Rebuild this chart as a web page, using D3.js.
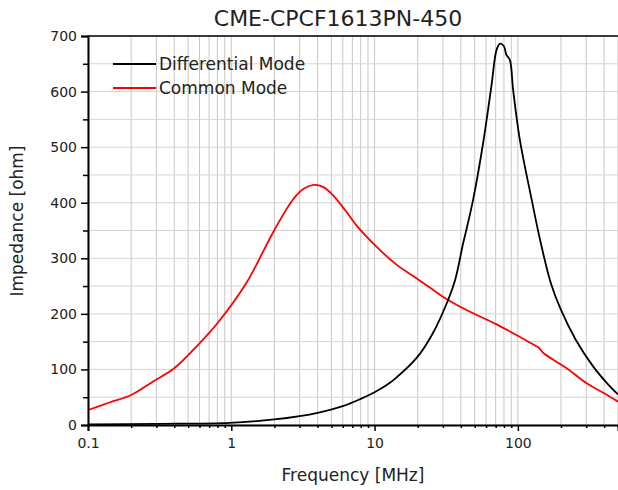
<!DOCTYPE html>
<html>
<head>
<meta charset="utf-8">
<script src="https://cdn.jsdelivr.net/npm/d3@7"></script>
<style>
  body { margin: 0; background: #fff; }
  text { font-family: "DejaVu Sans", sans-serif; fill: #222; }
</style>
</head>
<body>
<script>
// frequency in MHz, impedance in ohm
const cmFreq = [0.1, 0.141, 0.2, 0.283, 0.4, 0.6, 0.8, 1.27, 2.0, 2.68, 3.2, 3.77, 4.4, 5.1, 6.3, 7.6, 10.3, 14, 19.6, 25, 32.6, 48.7, 70, 92.7, 120, 134, 139, 150, 219, 302, 400, 500];
const cmImp  = [27, 40.5, 54, 78, 102, 147, 183, 255, 351, 405, 425, 432, 428, 414, 385, 357, 321, 290, 264, 245, 225, 201, 182, 165, 149, 142, 140, 130, 102, 75, 57, 42];

const dmFreq = [0.1, 0.3, 0.97, 2, 3, 4, 6, 8, 10, 12, 14, 20, 25.5, 32.6, 36.5, 41.5, 43.7, 48.7, 57.2, 65.3, 71, 74.8, 79.8, 83.2, 87.9, 92.7, 103, 125, 143, 170, 200, 254, 336, 420, 500];
const dmImp  = [1, 2, 4, 10, 16, 22, 34, 47, 59, 71, 84, 123, 165, 225, 261, 327, 351, 405, 507, 609, 675, 686, 682, 666, 657, 603, 515, 405, 333, 255, 207, 153, 105, 75, 55];

const xTicks = [0.1, 1, 10, 100];
const yTicks = [0, 100, 200, 300, 400, 500, 600, 700];

const w = 618, h = 490;
const mLeft = 88, mRight = 618, mTop = 36, mBottom = 425;

const x = d3.scaleLog().domain([0.1, 500]).range([mLeft, mRight]);
const y = d3.scaleLinear().domain([0, 700]).range([mBottom, mTop]);

const svg = d3.select("body").append("svg").attr("width", w).attr("height", h);

// minor positions for the grid
let xMinor = [];
[0.1, 1, 10, 100].forEach(d => { for (let k = 1; k < 10; k++) { if (d * k <= 500) xMinor.push(+(d * k).toPrecision(3)); } });
const yMinor = d3.range(0, 701, 50);

svg.append("g").selectAll("line").data(xMinor).enter().append("line")
  .attr("x1", d => x(d)).attr("x2", d => x(d))
  .attr("y1", mTop).attr("y2", mBottom)
  .attr("stroke", "#c8c8c8").attr("stroke-width", 1);
svg.append("g").selectAll("line").data(yMinor).enter().append("line")
  .attr("x1", mLeft).attr("x2", mRight)
  .attr("y1", d => y(d)).attr("y2", d => y(d))
  .attr("stroke", "#d4d4d4").attr("stroke-width", 1);

// top frame
svg.append("line").attr("x1", mLeft).attr("x2", mRight).attr("y1", mTop).attr("y2", mTop)
  .attr("stroke", "#000").attr("stroke-width", 1.5);

const line = d3.line().x(d => x(d[0])).y(d => y(d[1])).curve(d3.curveCatmullRom.alpha(0.5));

svg.append("path").datum(cmFreq.map((f, i) => [f, cmImp[i]]))
  .attr("d", line).attr("fill", "none").attr("stroke", "#ff0000").attr("stroke-width", 1.8);
svg.append("path").datum(dmFreq.map((f, i) => [f, dmImp[i]]))
  .attr("d", line).attr("fill", "none").attr("stroke", "#000").attr("stroke-width", 1.8);

// x axis
svg.append("g").attr("transform", "translate(0," + mBottom + ")")
  .call(d3.axisBottom(x).tickValues(xTicks).tickFormat(d3.format("~g")).tickSize(6).tickPadding(7));
svg.append("g").attr("transform", "translate(0," + mBottom + ")")
  .call(d3.axisBottom(x).tickValues(xMinor.filter(d => !xTicks.includes(d))).tickFormat("").tickSize(3))
  .select(".domain").remove();

// y axis
svg.append("g").attr("transform", "translate(" + mLeft + ",0)")
  .call(d3.axisLeft(y).tickValues(yTicks).tickSize(7).tickPadding(4));
svg.append("g").attr("transform", "translate(" + mLeft + ",0)")
  .call(d3.axisLeft(y).tickValues(yMinor.filter(d => d % 100 != 0)).tickFormat("").tickSize(5))
  .select(".domain").remove();

svg.selectAll(".domain").attr("stroke", "#000").attr("stroke-width", 2);
svg.selectAll(".tick line").attr("stroke", "#000").attr("stroke-width", 1.5);
svg.selectAll(".tick text").style("font-size", "14px").style("font-family", "DejaVu Sans, sans-serif").attr("fill", "#222");

// title + labels
svg.append("text").attr("x", 338).attr("y", 26).attr("text-anchor", "middle")
  .style("font-size", "22px").text("CME-CPCF1613PN-450");
svg.append("text").attr("x", 353).attr("y", 481).attr("text-anchor", "middle")
  .style("font-size", "17px").text("Frequency [MHz]");
svg.append("text").attr("transform", "translate(23,221) rotate(-90)").attr("text-anchor", "middle")
  .style("font-size", "17px").text("Impedance [ohm]");

// legend
const legend = [["Differential Mode", "#000"], ["Common Mode", "#ff0000"]];
legend.forEach((d, i) => {
  const ly = 64 + i * 24;
  svg.append("line").attr("x1", 113).attr("x2", 156).attr("y1", ly).attr("y2", ly)
    .attr("stroke", d[1]).attr("stroke-width", 2);
  svg.append("text").attr("x", 159).attr("y", ly + 6).style("font-size", "17px").text(d[0]);
});
</script>
</body>
</html>
